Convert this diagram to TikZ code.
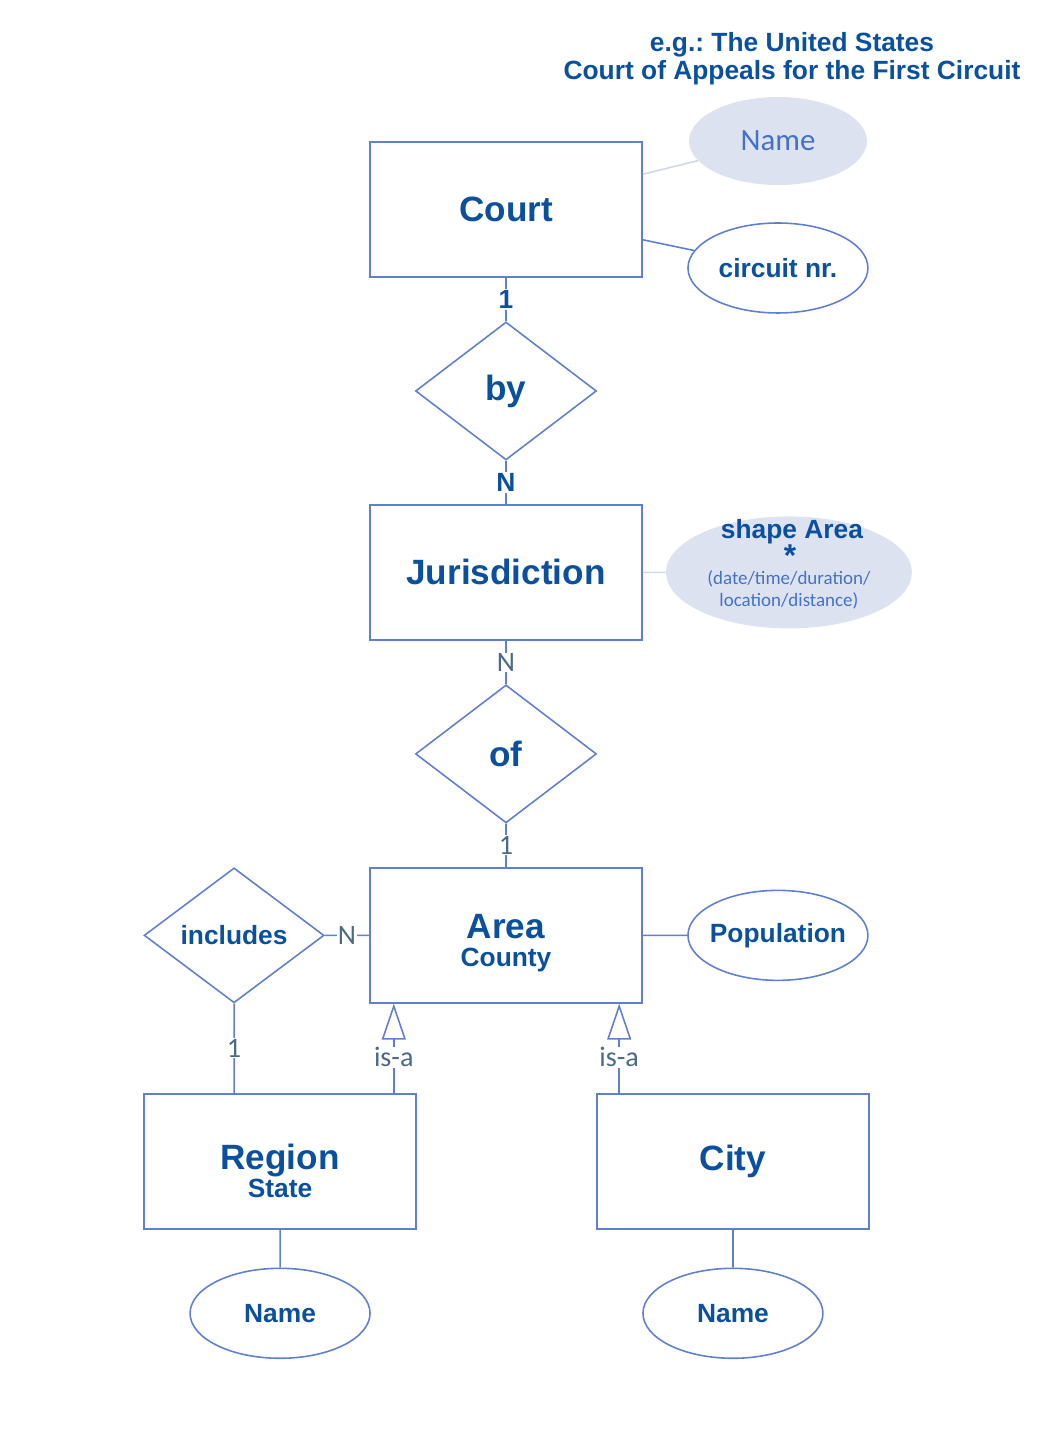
\documentclass[tikz,border=0pt]{standalone}
\usepackage{fontspec}
\setmainfont{Liberation Sans}
\newfontfamily\calibri{Carlito}
\usetikzlibrary{shapes.geometric, arrows.meta, positioning, calc}

\definecolor{erline}{RGB}{95,128,206}
\definecolor{ertext}{RGB}{10,80,158}
\definecolor{erfill}{RGB}{221,226,240}
\definecolor{erlight}{RGB}{206,215,236}
\definecolor{ername}{RGB}{68,114,196}
\definecolor{ergrey}{RGB}{74,106,138}
\frenchspacing

\begin{document}
\begin{tikzpicture}[x=0.02cm,y=-0.02cm,node distance=3.63cm,on grid,
    entity/.style={rectangle,draw=erline,line width=0.9pt,minimum width=5.44cm,
      minimum height=2.7cm,inner sep=0pt,text=ertext,align=center,
      font=\bfseries\fontsize{15}{16}\selectfont},
    relation/.style={diamond,draw=erline,line width=0.9pt,minimum width=3.62cm,
      minimum height=2.76cm,inner sep=0pt,text=ertext,
      font=\bfseries\fontsize{20}{22}\selectfont},
    attrib/.style={ellipse,draw=erline,line width=0.9pt,minimum width=3.6cm,
      minimum height=1.8cm,inner sep=0pt,text=ertext,
      font=\bfseries\fontsize{15}{16}\selectfont},
    keyattr/.style={ellipse,fill=erfill,minimum width=3.56cm,minimum height=1.76cm,
      inner sep=0pt,text=ername,font=\calibri\fontsize{17.6}{20}\selectfont},
    link/.style={draw=erline,line width=0.9pt},
    faint/.style={draw=erlight,line width=0.9pt},
    card/.style={fill=white,inner sep=1pt,text=ertext,
      font=\bfseries\fontsize{15}{16}\selectfont},
    cardgrey/.style={fill=white,inner sep=0.5pt,text=ergrey,
      font=\calibri\fontsize{16}{18}\selectfont},
    isa/.style={link,-{Triangle[open,length=0.72cm,width=0.48cm,line width=0.9pt]}}]

  \useasboundingbox (0,0) rectangle (1054,1450);

  % example note
  \node[text=ertext,align=center,font=\bfseries\fontsize{15}{16}\selectfont]
    (note) at (792,59) {e.g.: The United States\\Court of Appeals for the First Circuit};

  % main column
  \node[entity] (court) at (506,209.5) {\fontsize{20}{22}\selectfont Court};
  \node[relation] (by)   [below=of court] {by};
  \node[entity]   (jur)  [below=of by]    {\fontsize{20}{22}\selectfont Jurisdiction};
  \node[relation] (of)   [below=of jur]   {of};
  \node[entity]   (area) [below=of of]
    {{\fontsize{20}{22}\selectfont\rule{0pt}{22.5pt}Area}\\County};

  % attributes
  \node[keyattr] (name)    [above right=1.37cm and 5.44cm of court] {Name};
  \node[attrib]  (circuit) [below right=1.17cm and 5.44cm of court] {circuit nr.};
  \node[ellipse,fill=erfill,minimum width=4.92cm,minimum height=2.24cm,inner sep=0pt]
    (shapeattr) [right=5.66cm of jur] {};
  \node[anchor=base,inner sep=0pt,text=ertext,font=\bfseries\fontsize{15}{16}\selectfont]
    (shapetitle) at ([xshift=0.06cm,yshift=-0.44cm]shapeattr.north) {shape Area};
  \node[anchor=north,inner sep=0pt,text=ertext,font=\bfseries\fontsize{18}{20}\selectfont]
    (shapestar) at ([xshift=0.02cm,yshift=-0.56cm]shapeattr.north) {*};
  \node[align=center,inner sep=0pt,text=ername,font=\calibri\fontsize{10.8}{12.5}\selectfont]
    (shapekinds) at ([yshift=-0.34cm]shapeattr.center) {(date/time/duration/\\location/distance)};
  \node[attrib,inner xsep=-0.1cm] (popul) [right=5.44cm of area] {Population};

  % lower part
  \node[relation,minimum width=3.6cm,minimum height=2.7cm,
    font=\bfseries\fontsize{15}{16}\selectfont] (includes) [left=5.44cm of area] {includes};
  \node[entity] (region) [below left=4.52cm and 4.52cm of area]
    {{\fontsize{20}{22}\selectfont\rule{0pt}{25.5pt}Region}\\State};
  \node[entity] (city) [below right=4.52cm and 4.54cm of area]
    {\fontsize{20}{22}\selectfont City};
  \node[attrib] (regionname) [below=3.04cm of region] {Name};
  \node[attrib] (cityname)   [below=3.04cm of city]   {Name};

  \path[link] (court) -- node[card] {1} (by)
              (by) -- node[card] {N} (jur)
              (jur) -- node[cardgrey] {N} (of)
              (of) -- node[cardgrey] {1} (area)
              (area) -- node[cardgrey] {N} (includes)
              (includes.south) -- node[cardgrey] {1} (includes.south |- region.north)
              (area) -- (popul)
              (region) -- (regionname)
              (city) -- (cityname)
              ([yshift=0.76cm]court.south east) -- (circuit);
  \path[faint] ([yshift=-0.66cm]court.north east) -- (name)
               (jur) -- (shapeattr);

  \draw[isa] ([xshift=-0.46cm]region.north east) coordinate (isaR)
    -- node[cardgrey,pos=0.4] {is-a} (isaR |- area.south);
  \draw[isa] ([xshift=0.46cm]city.north west) coordinate (isaC)
    -- node[cardgrey,pos=0.4] {is-a} (isaC |- area.south);
\end{tikzpicture}
\end{document}
